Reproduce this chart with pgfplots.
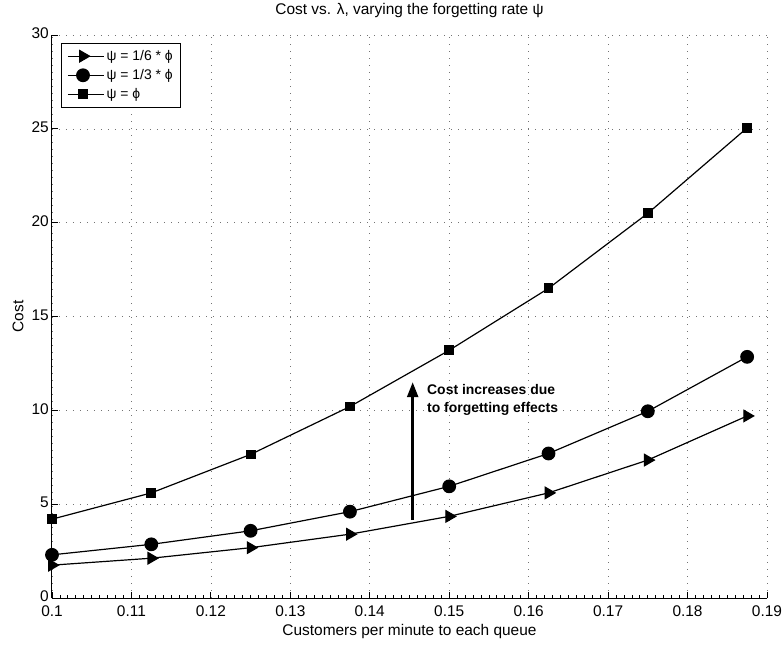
\documentclass[border=0pt]{standalone}
\usepackage{pgfplots}
\pgfplotsset{compat=1.18}
\usepackage{fontspec}
\setmainfont{Liberation Sans}
\usetikzlibrary{arrows.meta}

\begin{document}
\begin{tikzpicture}
\path[use as bounding box] (-52bp,-47bp) rectangle (730bp,598bp);
\begin{axis}[
  at={(0,0)}, anchor=south west,
  scale only axis, width=715bp, height=563bp,
  xmin=0.1, xmax=0.19, ymin=0, ymax=30,
  axis x line*=bottom, axis y line*=left,
  axis line style={line width=1bp, -},
  xtick={0.1,0.11,0.12,0.13,0.14,0.15,0.16,0.17,0.18,0.19},
  xticklabels={0.1,0.11,0.12,0.13,0.14,0.15,0.16,0.17,0.18,0.19},
  ytick={0,5,10,15,20,25,30},
  minor x tick num=9,
  tick align=inside,
  major tick length=6bp, minor tick length=3bp,
  tick style={line width=0.8bp, black},
  /pgf/number format/assume math mode=true,
  tick label style={font=\fontsize{15.5}{17}\selectfont},
  xticklabel style={inner sep=0pt, yshift=-8bp},
  yticklabel style={inner xsep=3bp, inner ysep=0pt, yshift=1.5bp},
  grid=major,
  major grid style={black!55, line width=0.6bp, dash pattern=on 1bp off 6bp},
  title={Cost vs. λ, varying the forgetting rate ψ},
  title style={font=\fontsize{15.5}{17}\selectfont, at={(axis description cs:0.5,1)}, anchor=base, yshift=15bp},
  xlabel={Customers per minute to each queue},
  xlabel style={font=\fontsize{15.5}{17}\selectfont, inner sep=0pt, at={(axis description cs:0.5,0)}, anchor=base, yshift=-37bp},
  ylabel={Cost},
  ylabel style={font=\fontsize{15.5}{17}\selectfont, at={(axis description cs:0,0.5)}, anchor=center, yshift=34bp},
  legend style={at={(axis description cs:0,1)}, anchor=north west, xshift=9bp, yshift=-8bp,
    draw=black, line width=0.8bp, font=\fontsize{14}{16}\selectfont, inner xsep=6bp, inner ysep=5bp,
    row sep=3.5bp, cells={anchor=west}},
  legend image code/.code={\path (0bp,0bp) -- (36bp,0bp);
    \draw[mark repeat=2,mark phase=2] plot coordinates {(1bp,0bp) (15bp,0bp) (29bp,0bp)};},
  every axis plot/.append style={black, line width=1.2bp},
]
\addplot[mark=triangle*, mark size=6.5bp, mark options={rotate=-90, solid}] coordinates {
  (0.1,1.75) (0.1125,2.12) (0.125,2.68) (0.1375,3.4) (0.15,4.35) (0.1625,5.6) (0.175,7.35) (0.1875,9.7)};
\addplot[mark=*, mark size=6.3bp] coordinates {
  (0.1,2.3) (0.1125,2.86) (0.125,3.58) (0.1375,4.6) (0.15,5.95) (0.1625,7.7) (0.175,9.95) (0.1875,12.85)};
\addplot[mark=square*, mark size=4.3bp] coordinates {
  (0.1,4.2) (0.1125,5.6) (0.125,7.65) (0.1375,10.2) (0.15,13.2) (0.1625,16.5) (0.175,20.5) (0.1875,25.05)};
\legend{ψ = 1/6 * ϕ, ψ = 1/3 * ϕ, ψ = ϕ}
\draw[line width=2.5bp, -{Triangle[length=15bp,width=11bp]}] (axis cs:0.1454,4.15) -- (axis cs:0.1454,11.5);
\node[anchor=west, align=left, font=\fontsize{14}{18}\selectfont\bfseries, inner sep=0pt] at (axis cs:0.1472,10.55) {Cost increases due\\to forgetting effects};
\end{axis}
\end{tikzpicture}
\end{document}
